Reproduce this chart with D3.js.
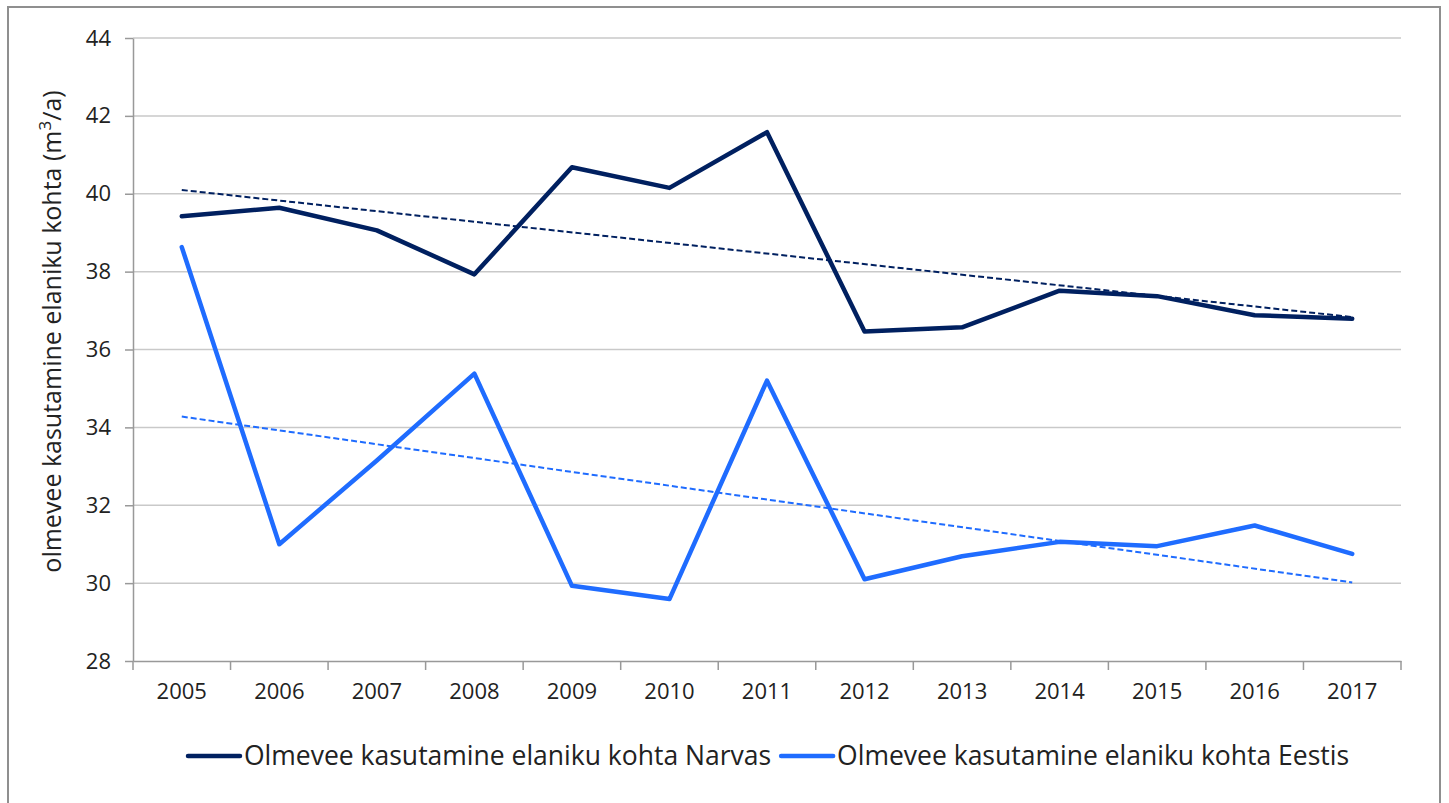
<!DOCTYPE html>
<html lang="et">
<head>
    <meta charset="UTF-8">
    <title>Olmevee kasutamine</title>
    <script src="https://d3js.org/d3.v7.min.js"></script>
    <style>
        body { margin: 0; background: #fff; }
        text { font-family: "Open Sans", sans-serif; fill: #222; }
        .grid line { stroke: #c9c9c9; stroke-width: 1.5; }
        .axis path, .axis line { stroke: #999; stroke-width: 1.5; }
    </style>
</head>
<body>
<script>
    const width = 1449;
    const height = 803;

    const years  = ["2005","2006","2007","2008","2009","2010","2011","2012","2013","2014","2015","2016","2017"];
    const narva  = [39.42, 39.64, 39.06, 37.93, 40.68, 40.15, 41.58, 36.46, 36.57, 37.51, 37.37, 36.88, 36.79];
    const eesti  = [38.63, 31.00, 33.15, 35.38, 29.93, 29.59, 35.20, 30.10, 30.69, 31.06, 30.95, 31.48, 30.75];
    const yTicks = [28, 30, 32, 34, 36, 38, 40, 42, 44];

    const series = [
        {name: "Olmevee kasutamine elaniku kohta Narvas", values: narva, color: "#002060"},
        {name: "Olmevee kasutamine elaniku kohta Eestis", values: eesti, color: "#1f6cff"}
    ];

    const margin = {left: 133, right: 48, top: 38, bottom: 142};

    const svg = d3.select("body").append("svg")
            .attr("width", width).attr("height", height);

    // chart frame
    svg.append("rect")
            .attr("x", 8).attr("y", 7)
            .attr("width", 1432).attr("height", 820)
            .attr("fill", "none").attr("stroke", "#8f8f8f").attr("stroke-width", 2);

    const x = d3.scaleBand().domain(years)
            .range([margin.left, width - margin.right]);
    const y = d3.scaleLinear().domain([28, 44])
            .range([height - margin.bottom, margin.top]);

    // horizontal gridlines
    svg.append("g").attr("class", "grid")
            .selectAll("line")
            .data(yTicks.slice(1)).enter()
            .append("line")
            .attr("x1", margin.left).attr("x2", width - margin.right)
            .attr("y1", d => y(d)).attr("y2", d => y(d));

    // y axis
    const yAxis = svg.append("g").attr("class", "axis")
            .attr("transform", `translate(${margin.left},0)`)
            .call(d3.axisLeft(y).tickValues(yTicks).tickSize(8).tickSizeOuter(0).tickPadding(14));
    yAxis.selectAll("text").style("font-size", "22px");

    // x axis, ticks between categories
    const xAxis = svg.append("g").attr("class", "axis")
            .attr("transform", `translate(0,${y(28)})`)
            .call(d3.axisBottom(x).tickSize(0).tickSizeOuter(0).tickPadding(22));
    xAxis.selectAll("text").style("font-size", "22px");
    xAxis.selectAll("line.sep")
            .data(years.concat(["end"])).enter()
            .append("line")
            .attr("class", "sep")
            .attr("x1", (d, i) => margin.left + i * x.step())
            .attr("x2", (d, i) => margin.left + i * x.step())
            .attr("y1", 0).attr("y2", 9);

    // y axis title
    const title = svg.append("text")
            .attr("transform", `translate(61,${(y(28) + y(44)) / 2 - 18}) rotate(-90)`)
            .attr("text-anchor", "middle")
            .style("font-size", "25px");
    title.append("tspan").text("olmevee kasutamine elaniku kohta (m");
    title.append("tspan").text("3").attr("dy", -10).style("font-size", "17px");
    title.append("tspan").text("/a)").attr("dy", 10);

    const cx = (d, i) => x(years[i]) + x.bandwidth() / 2;
    const line = d3.line().x(cx).y(d => y(d));

    // linear trend (least squares) per series
    function trend(values) {
        const n = values.length;
        const mx = d3.mean(values, (d, i) => i);
        const my = d3.mean(values);
        const sxy = d3.sum(values, (d, i) => (i - mx) * (d - my));
        const sxx = d3.sum(values, (d, i) => (i - mx) * (i - mx));
        const b = sxy / sxx;
        return [my - b * mx, my + b * (n - 1 - mx)];
    }

    series.forEach(s => {
        const t = trend(s.values);
        svg.append("line")
                .attr("x1", cx(null, 0)).attr("x2", cx(null, years.length - 1))
                .attr("y1", y(t[0])).attr("y2", y(t[1]))
                .attr("stroke", s.color).attr("stroke-width", 2)
                .attr("stroke-dasharray", "6,3");
    });

    series.forEach(s => {
        svg.append("path")
                .datum(s.values)
                .attr("d", line)
                .attr("fill", "none")
                .attr("stroke", s.color)
                .attr("stroke-width", 4.5)
                .attr("stroke-linejoin", "round")
                .attr("stroke-linecap", "round");
    });

    // legend
    const legend = svg.append("g").attr("transform", "translate(188,756)");
    let lx = 0;
    series.forEach(s => {
        legend.append("line")
                .attr("x1", lx).attr("x2", lx + 52)
                .attr("stroke", s.color).attr("stroke-width", 4.5)
                .attr("stroke-linecap", "round");
        const t = legend.append("text")
                .attr("x", lx + 56).attr("dy", "0.35em")
                .style("font-size", "26.5px")
                .text(s.name);
        lx += 56 + t.node().getComputedTextLength() + 10;
    });
</script>
</body>
</html>
